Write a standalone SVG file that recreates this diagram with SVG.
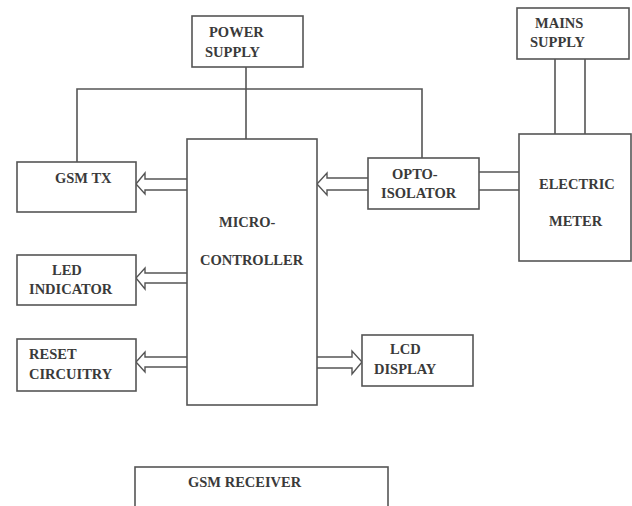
<svg xmlns="http://www.w3.org/2000/svg" width="632" height="506" viewBox="0 0 632 506">
<style>
.box{fill:#fff;stroke:#555;stroke-width:1.6}
.ln{fill:none;stroke:#555;stroke-width:1.6}
.ar{fill:#fff;stroke:#555;stroke-width:1.4;stroke-linejoin:miter}
.t{font-family:'Liberation Serif',serif;font-size:14.5px;font-weight:bold;fill:#3a3a3a}
</style>
<rect width="632" height="506" fill="#fff"/>
<g id="connectors">
<path class="ln" d="M246,67 V139"/>
<path class="ln" d="M77,162 V89 H422 V158"/>
<path class="ln" d="M555,59 V134 M585,59 V134"/>
<path class="ln" d="M479,172 H519 M479,190 H519"/>
<path class="ar" d="M187,179 H145 V173 L136,184 L145,194 V190 H187"/>
<path class="ar" d="M368,178 H327 V173 L317,184 L327,195 V190 H368"/>
<path class="ar" d="M187,273 H145 V268 L136,278 L145,289 V283 H187"/>
<path class="ar" d="M187,357 H145 V352 L136,362 L145,372 V367 H187"/>
<path class="ar" d="M317,357 H352 V351 L362,362 L352,374 V368 H317"/>
</g>
<g class="t" font-family="Liberation Serif, serif">
<g id="power-supply"><rect class="box" x="192" y="16" width="111" height="51"/><text x="209" y="37">POWER</text><text x="205" y="57">SUPPLY</text></g>
<g id="mains-supply"><rect class="box" x="517" y="8" width="112" height="51"/><text x="535" y="28">MAINS</text><text x="530" y="47">SUPPLY</text></g>
<g id="gsm-tx"><rect class="box" x="17" y="162" width="119" height="50"/><text x="55" y="183">GSM TX</text></g>
<g id="microcontroller"><rect class="box" x="187" y="139" width="130" height="266"/><text x="219" y="227">MICRO-</text><text x="200" y="265">CONTROLLER</text></g>
<g id="opto-isolator"><rect class="box" x="368" y="158" width="111" height="51"/><text x="392" y="179">OPTO-</text><text x="381" y="198">ISOLATOR</text></g>
<g id="electric-meter"><rect class="box" x="519" y="134" width="112" height="127"/><text x="539" y="189">ELECTRIC</text><text x="549" y="226">METER</text></g>
<g id="led-indicator"><rect class="box" x="17" y="255" width="119" height="50"/><text x="52" y="275">LED</text><text x="29" y="294">INDICATOR</text></g>
<g id="reset-circuitry"><rect class="box" x="17" y="339" width="119" height="52"/><text x="29" y="359">RESET</text><text x="29" y="379">CIRCUITRY</text></g>
<g id="lcd-display"><rect class="box" x="362" y="335" width="111" height="51"/><text x="390" y="354">LCD</text><text x="374" y="374">DISPLAY</text></g>
<g id="gsm-receiver"><rect class="box" x="135" y="467" width="253" height="50"/><text x="188" y="487">GSM RECEIVER</text></g>
</g>
</svg>
